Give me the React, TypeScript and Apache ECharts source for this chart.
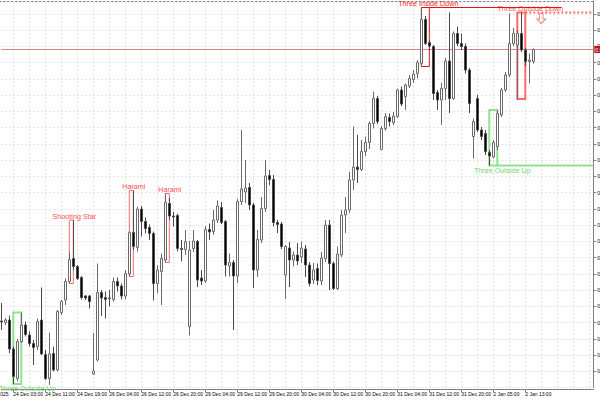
import React, { useEffect, useRef } from "react";
import * as echarts from "echarts";

// Hourly candles (price scale arbitrary: axis labels are clipped at "0.")
const opens = [
  0.57658, 0.57655, 0.5766, 0.57602, 0.57543, 0.57617, 0.5765, 0.5763, 0.57613, 0.57607,
  0.5766, 0.57591, 0.57543, 0.57593, 0.5756, 0.57675, 0.577, 0.57737, 0.57783, 0.57767,
  0.57745, 0.57708, 0.57708, 0.57552, 0.5758, 0.57715, 0.57705, 0.57704, 0.57701, 0.57737,
  0.57728, 0.57708, 0.57752, 0.57835, 0.57805, 0.57882, 0.57857, 0.57845, 0.57833, 0.57733,
  0.57757, 0.5778, 0.57893, 0.57868, 0.57869, 0.57803, 0.57801, 0.57647, 0.57803, 0.57817,
  0.57744, 0.57738, 0.57841, 0.57837, 0.5786, 0.57885, 0.57857, 0.57768, 0.57775, 0.57748,
  0.57897, 0.57916, 0.57925, 0.5789, 0.5776, 0.5782, 0.57883, 0.57949, 0.57941, 0.57855,
  0.57852, 0.5775, 0.57804, 0.5778, 0.5779, 0.57786, 0.57802, 0.5777, 0.5774, 0.57763,
  0.57738, 0.57783, 0.5785, 0.57773, 0.57723, 0.5779, 0.5787, 0.5788, 0.5794, 0.57966,
  0.57961, 0.57997, 0.58015, 0.58053, 0.58103, 0.58001, 0.58043, 0.58065, 0.58055, 0.58067,
  0.5812, 0.58107, 0.58128, 0.58141, 0.58153, 0.58173, 0.58261, 0.58215, 0.58207, 0.58115,
  0.581, 0.58123, 0.58178, 0.58103, 0.58233, 0.58213, 0.58207, 0.5816, 0.58027, 0.58103,
  0.5804, 0.58033, 0.57995, 0.57986, 0.58007, 0.5807, 0.5812, 0.5815, 0.58213, 0.5821,
  0.58233, 0.582, 0.58177, 0.58177,
];
const highs = [
  0.57694, 0.57664, 0.57669, 0.57607, 0.57622, 0.57675, 0.57657, 0.57637, 0.5762, 0.57663,
  0.57725, 0.576, 0.57635, 0.57607, 0.5768, 0.577, 0.57743, 0.57795, 0.5786, 0.5777,
  0.57748, 0.5771, 0.5771, 0.57634, 0.57773, 0.5772, 0.57717, 0.5772, 0.57745, 0.57745,
  0.57733, 0.5776, 0.57838, 0.57919, 0.57887, 0.57888, 0.57865, 0.57851, 0.57837, 0.5777,
  0.57793, 0.57913, 0.57904, 0.57876, 0.57873, 0.5782, 0.5784, 0.57818, 0.5784, 0.5782,
  0.5776, 0.57848, 0.57853, 0.5788, 0.57899, 0.57896, 0.5786, 0.57793, 0.5778, 0.57902,
  0.5804, 0.5798, 0.57934, 0.57894, 0.5784, 0.57906, 0.5798, 0.5796, 0.5795, 0.5786,
  0.57856, 0.5781, 0.57816, 0.57797, 0.57814, 0.57817, 0.5781, 0.57776, 0.57774, 0.57773,
  0.57796, 0.5786, 0.5786, 0.57777, 0.57807, 0.5788, 0.57906, 0.57956, 0.58047, 0.5803,
  0.5802, 0.58027, 0.58057, 0.58117, 0.58108, 0.58048, 0.58074, 0.58073, 0.58076, 0.58123,
  0.58127, 0.58133, 0.5815, 0.5816, 0.5818, 0.58285, 0.58268, 0.5822, 0.5821, 0.5812,
  0.58134, 0.58184, 0.58275, 0.58237, 0.58247, 0.58233, 0.58213, 0.58164, 0.58063, 0.5811,
  0.58046, 0.5804, 0.58, 0.5802, 0.5808, 0.58124, 0.58156, 0.58273, 0.58244, 0.5824,
  0.58275, 0.58204, 0.58193, 0.58203,
];
const lows = [
  0.5764, 0.5765, 0.57594, 0.57532, 0.57538, 0.57614, 0.57627, 0.57607, 0.5757, 0.576,
  0.5759, 0.5754, 0.5753, 0.57557, 0.57557, 0.5767, 0.5769, 0.57733, 0.5776, 0.5774,
  0.57701, 0.577, 0.57683, 0.5755, 0.57577, 0.57668, 0.57663, 0.57687, 0.57697, 0.57717,
  0.57701, 0.57701, 0.57747, 0.578, 0.57797, 0.57827, 0.57833, 0.5782, 0.57699, 0.57714,
  0.5769, 0.57775, 0.5786, 0.57847, 0.57797, 0.57777, 0.5779, 0.57629, 0.57796, 0.57726,
  0.5773, 0.57734, 0.5782, 0.5783, 0.57854, 0.57852, 0.57747, 0.57747, 0.5764, 0.57734,
  0.5789, 0.57894, 0.5788, 0.57724, 0.57746, 0.57814, 0.57876, 0.5793, 0.57847, 0.57834,
  0.57802, 0.57702, 0.57726, 0.57767, 0.5777, 0.57774, 0.57746, 0.57727, 0.57732, 0.5773,
  0.5773, 0.57776, 0.5772, 0.5772, 0.5772, 0.57786, 0.57834, 0.57874, 0.5792, 0.57934,
  0.57958, 0.57988, 0.58002, 0.58043, 0.58052, 0.58, 0.58038, 0.58047, 0.5805, 0.58064,
  0.58088, 0.5808, 0.58124, 0.58134, 0.58143, 0.58167, 0.5821, 0.582, 0.581, 0.5808,
  0.5805, 0.581, 0.58074, 0.581, 0.58208, 0.582, 0.58153, 0.58074, 0.57983, 0.58036,
  0.5802, 0.5799, 0.57969, 0.57983, 0.58, 0.58066, 0.58116, 0.58146, 0.58208, 0.58102,
  0.58196, 0.58168, 0.58133, 0.58173,
];
const closes = [
  0.57656, 0.5766, 0.57602, 0.57547, 0.57617, 0.5765, 0.57631, 0.57613, 0.57605, 0.57657,
  0.57592, 0.57543, 0.57592, 0.5756, 0.57677, 0.57697, 0.57737, 0.57781, 0.57767, 0.57743,
  0.57705, 0.57704, 0.57697, 0.57558, 0.57715, 0.57704, 0.57701, 0.57703, 0.57737, 0.57728,
  0.57708, 0.57753, 0.57835, 0.57807, 0.57882, 0.57857, 0.57843, 0.57833, 0.57733, 0.5776,
  0.57783, 0.57895, 0.57868, 0.57866, 0.57803, 0.57801, 0.57817, 0.578, 0.57818, 0.5774,
  0.57738, 0.57841, 0.57836, 0.5786, 0.57888, 0.57855, 0.5777, 0.57775, 0.57748, 0.57897,
  0.57922, 0.57924, 0.5789, 0.5776, 0.57821, 0.57883, 0.57948, 0.57941, 0.57855, 0.57851,
  0.57807, 0.57807, 0.5778, 0.5779, 0.57778, 0.57804, 0.5777, 0.57733, 0.5776, 0.57739,
  0.57784, 0.5785, 0.57773, 0.57723, 0.57792, 0.5787, 0.5788, 0.5794, 0.57966, 0.57961,
  0.57997, 0.58015, 0.58053, 0.58103, 0.58057, 0.58043, 0.58067, 0.58057, 0.58068, 0.5812,
  0.58092, 0.5813, 0.58143, 0.58152, 0.58175, 0.58261, 0.58213, 0.58208, 0.58113, 0.581,
  0.58123, 0.58178, 0.58103, 0.58233, 0.58213, 0.58207, 0.5816, 0.58093, 0.58057, 0.5804,
  0.58027, 0.57997, 0.57988, 0.58015, 0.58073, 0.5812, 0.5815, 0.58213, 0.58233, 0.58233,
  0.582, 0.58177, 0.5818, 0.58201,
];

// Time axis labels (one every 8 hourly bars, starting at bar 3)
const tickLabels = [
  "24 Dec 03:00", "24 Dec 11:00", "24 Dec 19:00", "26 Dec 04:00", "26 Dec 12:00", "26 Dec 20:00",
  "29 Dec 04:00", "29 Dec 12:00", "29 Dec 20:00", "30 Dec 04:00", "30 Dec 12:00", "30 Dec 20:00",
  "31 Dec 04:00", "31 Dec 12:00", "31 Dec 20:00", "2 Jan 05:00", "2 Jan 13:00",
];
const startDateLabel = "23 Dec 2025";
const firstTickBar = 3;
const barsPerLabel = 8;
const barsPerGridLine = 4;
const totalSlots = 149; // bars plus the empty chart-shift space on the right

// Price axis
const priceMin = 0.57525;
const priceMax = 0.58298;
const priceStep = 0.000325;

// Candlestick patterns (first bar, last bar)
const patternNames = [
  "Three Outside Up", "Shooting Star", "Harami", "Harami",
  "Three Inside Down", "Three Outside Up", "Three Outside Down",
];
const patternFirst = [3, 17, 32, 41, 105, 122, 129];
const patternLast = [5, 18, 33, 42, 107, 124, 131];
const patternKind = ["bull", "bear", "bear", "bear", "bearStrong", "bull", "bearWide"];
// signal lines extending from a pattern box edge to a later slot
const extPattern = [4, 5, 6];
const extEdge = ["high", "low", "high"];
const extUntil = [140, 148, 148];
// hollow arrow signal
const arrowBar = 135;
const arrowPrice = 0.58263;

const kindStyle: Record<string, any> = {
  bull: { box: "#8ee28e", width: 2, text: "#6fd86f", above: false, line: "solid" },
  bear: { box: "#ff6a6a", width: 1, text: "#ff4f4f", above: true, line: "solid" },
  bearStrong: { box: "#e31414", width: 1, text: "#ee2a2a", above: true, line: "solid" },
  bearWide: { box: "#ff6b6b", width: 2, text: "#ff5252", above: true, line: "dotted" },
};
const labelShift = [10, 3, 2.5, 2.5, 3, 9, 9];

const FONT = "Liberation Sans";

export default function App() {
  const ref = useRef<HTMLDivElement>(null);

  useEffect(() => {
    if (!ref.current) return;
    const chart = echarts.init(ref.current, undefined, { renderer: "svg" });

    const slots = Array.from({ length: totalSlots }, (_, i) => String(i));
    const candles = opens.map((o, i) => [o, closes[i], lows[i], highs[i]]);
    const lastClose = closes[closes.length - 1];

    const isLabelSlot = (i: number) =>
      i >= firstTickBar &&
      (i - firstTickBar) % barsPerLabel === 0 &&
      (i - firstTickBar) / barsPerLabel < tickLabels.length;

    const boxes = patternNames.map((name, k) => {
      const a = patternFirst[k];
      const b = patternLast[k];
      const hi = Math.max(...highs.slice(a, b + 1));
      const lo = Math.min(...lows.slice(a, b + 1));
      return { name, a, b, hi, lo, st: kindStyle[patternKind[k]], shift: labelShift[k] };
    });

    const areaData = boxes.map((p) => [
      {
        coord: [p.a, p.hi],
        itemStyle: { color: "rgba(0,0,0,0)", borderColor: p.st.box, borderWidth: p.st.width },
        label: {
          show: true,
          formatter: p.name,
          position: p.st.above ? "top" : "bottom",
          distance: 0,
          offset: [p.shift, 0],
          color: p.st.text,
          fontSize: 7.2,
          fontFamily: FONT,
        },
      },
      { coord: [p.b, p.lo] },
    ]);

    const extSeries = extPattern.map((pi, k) => {
      const p = boxes[pi];
      const v = extEdge[k] === "high" ? p.hi : p.lo;
      return {
        type: "line",
        silent: true,
        symbol: "none",
        clip: false,
        z: 3,
        data: [
          [p.b, v],
          [extUntil[k], v],
        ],
        lineStyle: { color: p.st.box, width: p.st.width, type: p.st.line },
      };
    });

    const bidSeries = {
      type: "line",
      silent: true,
      symbol: "none",
      clip: false,
      z: 1,
      data: [
        [0, lastClose],
        [totalSlots - 1, lastClose],
      ],
      lineStyle: { color: "#d98585", width: 1, type: "solid" },
      endLabel: {
        show: true,
        distance: 1,
        formatter: () => lastClose.toFixed(5),
        color: "#fff",
        backgroundColor: "#c41010",
        fontSize: 5,
        fontFamily: FONT,
        padding: [1, 1, 1, 1],
      },
    };

    const gridLine = { color: "#e2e2e2", type: [2, 2] as any, width: 1 };

    chart.setOption({
      animation: false,
      backgroundColor: "#ffffff",
      grid: {
        left: 1.3,
        right: 6.7,
        top: 1,
        bottom: 12.5,
        containLabel: false,
        outerBoundsMode: "none",
      },
      xAxis: {
        type: "category",
        data: slots,
        boundaryGap: false,
        offset: 2,
        axisLine: { show: true, lineStyle: { color: "#808080", width: 1 } },
        axisTick: { show: true, length: 3, interval: isLabelSlot, lineStyle: { color: "#808080" } },
        axisLabel: {
          show: true,
          interval: isLabelSlot,
          formatter: (_v: string, i: number) =>
            isLabelSlot(i) ? tickLabels[(i - firstTickBar) / barsPerLabel] : "",
          align: "left",
          margin: 2,
          fontSize: 5,
          fontFamily: FONT,
          color: "#000",
          hideOverlap: false,
        },
        splitLine: {
          show: true,
          interval: (i: number) => i % barsPerGridLine === firstTickBar % barsPerGridLine,
          lineStyle: gridLine,
        },
      },
      yAxis: {
        type: "value",
        position: "right",
        min: priceMin,
        max: priceMax,
        interval: priceStep,
        axisLine: { show: true, lineStyle: { color: "#808080", width: 1 } },
        axisTick: { show: true, length: 3, lineStyle: { color: "#808080" } },
        axisLabel: {
          show: true,
          margin: 4,
          fontSize: 5,
          fontFamily: FONT,
          color: "#000",
          showMaxLabel: false,
          showMinLabel: false,
          formatter: (v: number) => v.toFixed(5),
        },
        splitLine: { show: true, lineStyle: gridLine },
      },
      graphic: [
        {
          type: "line",
          silent: true,
          shape: { x1: 0, y1: 1.5, x2: 593.5, y2: 1.5 },
          style: { stroke: "#7a7a7a", lineWidth: 1 },
        },
        {
          type: "text",
          silent: true,
          x: 8.5,
          y: 391.5,
          style: {
            text: startDateLabel,
            align: "right",
            verticalAlign: "top",
            fontSize: 5,
            fontFamily: FONT,
            fill: "#000",
          },
        },
      ],
      series: [
        bidSeries,
        {
          type: "candlestick",
          data: candles,
          barWidth: 3,
          clip: false,
          silent: true,
          z: 2,
          itemStyle: {
            color: "#ffffff",
            color0: "#000000",
            borderColor: "#6a6a6a",
            borderColor0: "#4a4a4a",
            borderWidth: 1,
          },
          markArea: { silent: true, data: areaData },
          markPoint: {
            silent: true,
            data: [
              {
                coord: [arrowBar, arrowPrice],
                symbol: "path://M3,0 L7,0 L7,6 L10,6 L5,11 L0,6 L3,6 Z",
                symbolSize: [9, 10],
                itemStyle: { color: "rgba(0,0,0,0)", borderColor: "#f08c7c", borderWidth: 1 },
                label: { show: false },
              },
            ],
          },
        },
        ...extSeries,
      ],
    });

    return () => chart.dispose();
  }, []);

  return (
    <div
      ref={ref}
      style={{ position: "absolute", left: 0, top: 0, width: 600, height: 400, background: "#fff" }}
    />
  );
}
